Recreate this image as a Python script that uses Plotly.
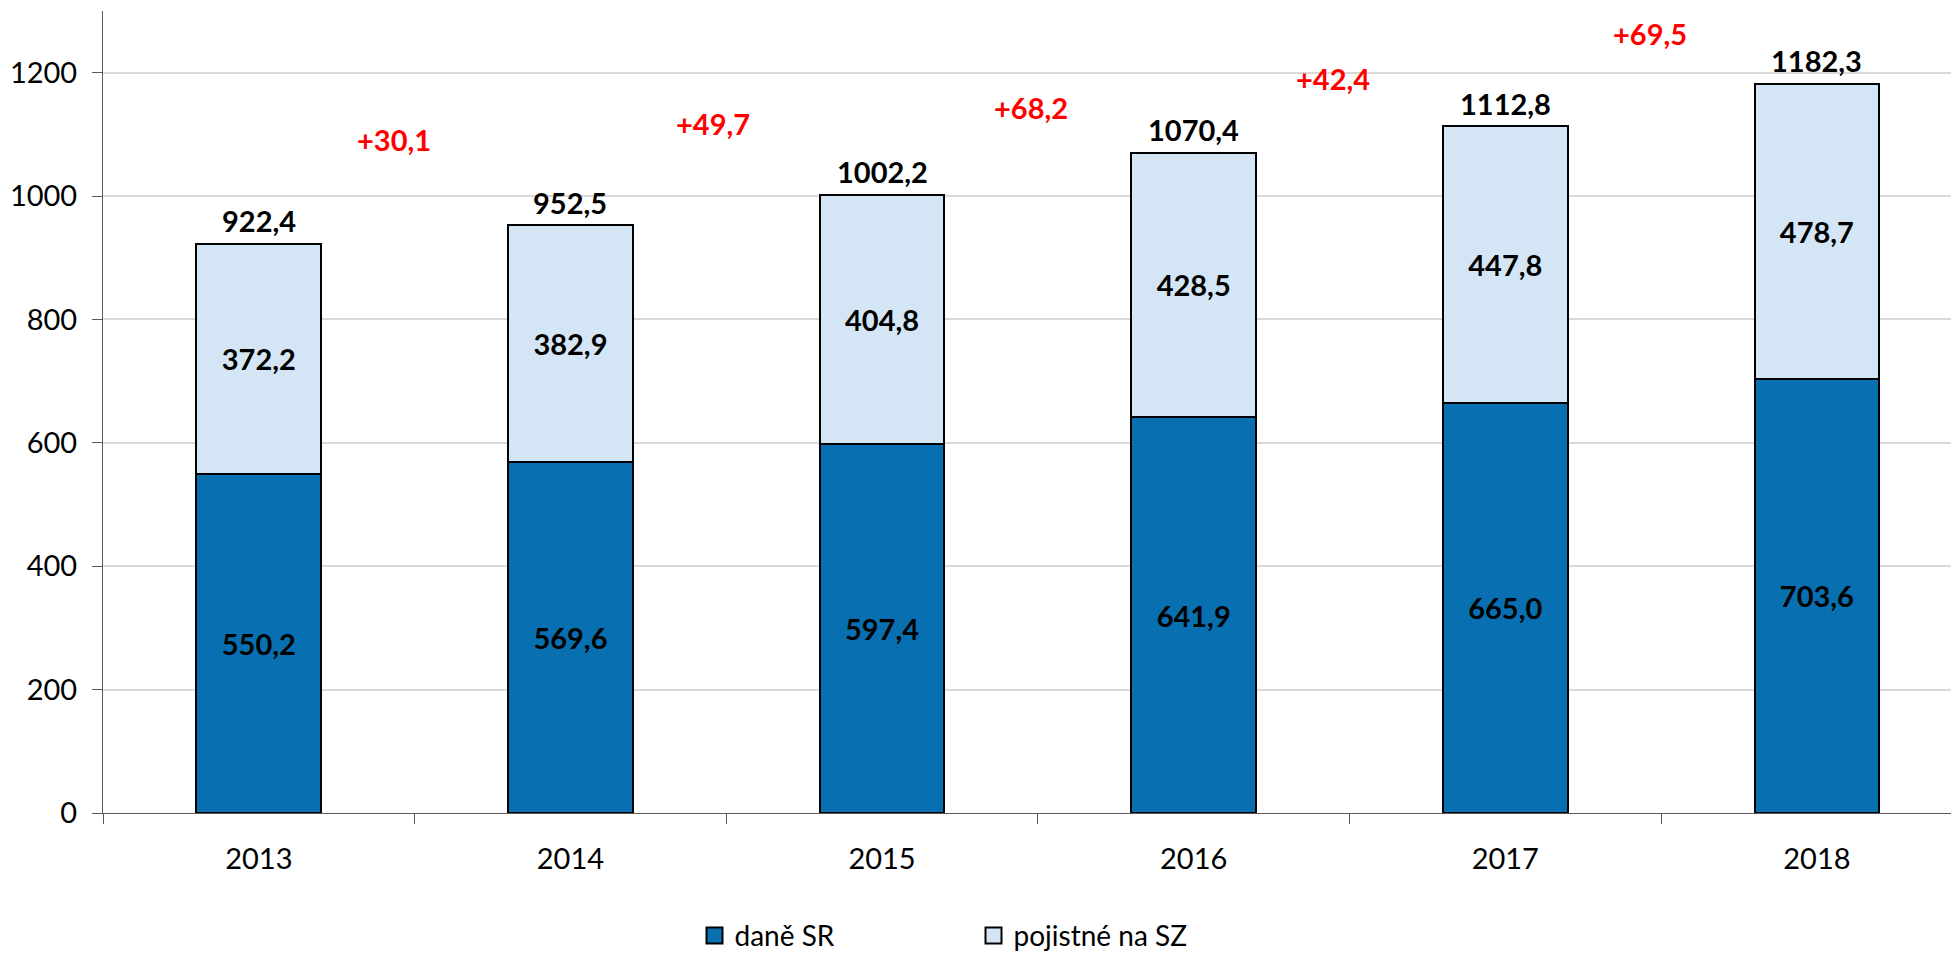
import plotly.graph_objects as go

years = ["2013", "2014", "2015", "2016", "2017", "2018"]
dane_sr = [550.2, 569.6, 597.4, 641.9, 665.0, 703.6]
pojistne = [372.2, 382.9, 404.8, 428.5, 447.8, 478.7]
totals = [922.4, 952.5, 1002.2, 1070.4, 1112.8, 1182.3]
increments = ["+30,1", "+49,7", "+68,2", "+42,4", "+69,5"]
inc_x = [0.434, 1.456, 2.478, 3.447, 4.465]
inc_y = [1092, 1118, 1144, 1191, 1264]

DARK = "#0870B0"
LIGHT = "#D4E6F5"
FONT = "Lato"


def fmt(v):
    return f"{v:.1f}".replace(".", ",")


fig = go.Figure()
fig.add_trace(go.Bar(
    x=years, y=dane_sr, name="daně SR", width=0.4,
    marker=dict(color=DARK, line=dict(color="black", width=2)),
    text=[fmt(v) for v in dane_sr], textposition="inside",
    insidetextanchor="middle", textangle=0,
    textfont=dict(family=FONT, size=29, color="black", weight="bold"),
    showlegend=False,
))
fig.add_trace(go.Bar(
    x=years, y=pojistne, name="pojistné na SZ", width=0.4,
    marker=dict(color=LIGHT, line=dict(color="black", width=2)),
    text=[fmt(v) for v in pojistne], textposition="inside",
    insidetextanchor="middle", textangle=0,
    textfont=dict(family=FONT, size=29, color="black", weight="bold"),
    showlegend=False,
))
# legend entries
for nm, col in [("daně SR", DARK), ("pojistné na SZ", LIGHT)]:
    fig.add_trace(go.Scatter(
        x=[None], y=[None], mode="markers", name=nm,
        marker=dict(symbol="square", size=17, color=col,
                    line=dict(color="black", width=2)),
    ))

annotations = []
for i, t in enumerate(totals):
    annotations.append(dict(
        x=i, y=t, xref="x", yref="y", text=fmt(t), showarrow=False,
        yanchor="middle", yshift=23,
        font=dict(family=FONT, size=29, color="black", weight="bold"),
    ))
for xi, yi, txt in zip(inc_x, inc_y, increments):
    annotations.append(dict(
        x=xi, y=yi, xref="x", yref="y", text=txt, showarrow=False,
        yanchor="middle", xanchor="center",
        font=dict(family=FONT, size=29, color="#FF0000", weight="bold"),
    ))

fig.update_layout(
    barmode="stack",
    width=1951, height=945,
    margin=dict(l=95, r=0, t=3, b=140, autoexpand=False),
    plot_bgcolor="white", paper_bgcolor="white",
    font=dict(family=FONT, size=29, color="black"),
    annotations=annotations,
    legend=dict(
        orientation="h", x=0.3187, xanchor="left", y=-0.153, yanchor="middle",
        entrywidth=234, entrywidthmode="pixels", traceorder="normal",
        font=dict(family=FONT, size=28, color="black"),
        itemsizing="trace",
    ),
    xaxis=dict(
        type="category", automargin=False,
        range=[-0.5, 5.456], showline=True, linecolor="#595959", linewidth=1,
        ticks="outside", tickson="boundaries", ticklen=10, tickcolor="#595959",
        showgrid=False, tickfont=dict(family=FONT, size=29, color="black"),
        ticklabelstandoff=20,
    ),
    yaxis=dict(
        range=[0, 1300], tickvals=[0, 200, 400, 600, 800, 1000, 1200],
        automargin=False,
        showline=True, linecolor="#595959", linewidth=1,
        ticks="outside", ticklen=10, tickcolor="#595959",
        showgrid=True, gridcolor="#D9D9D9", gridwidth=1.5,
        zeroline=False, tickfont=dict(family=FONT, size=29, color="black"),
        ticklabelstandoff=9,
    ),
)

fig.write_html("out.html")
